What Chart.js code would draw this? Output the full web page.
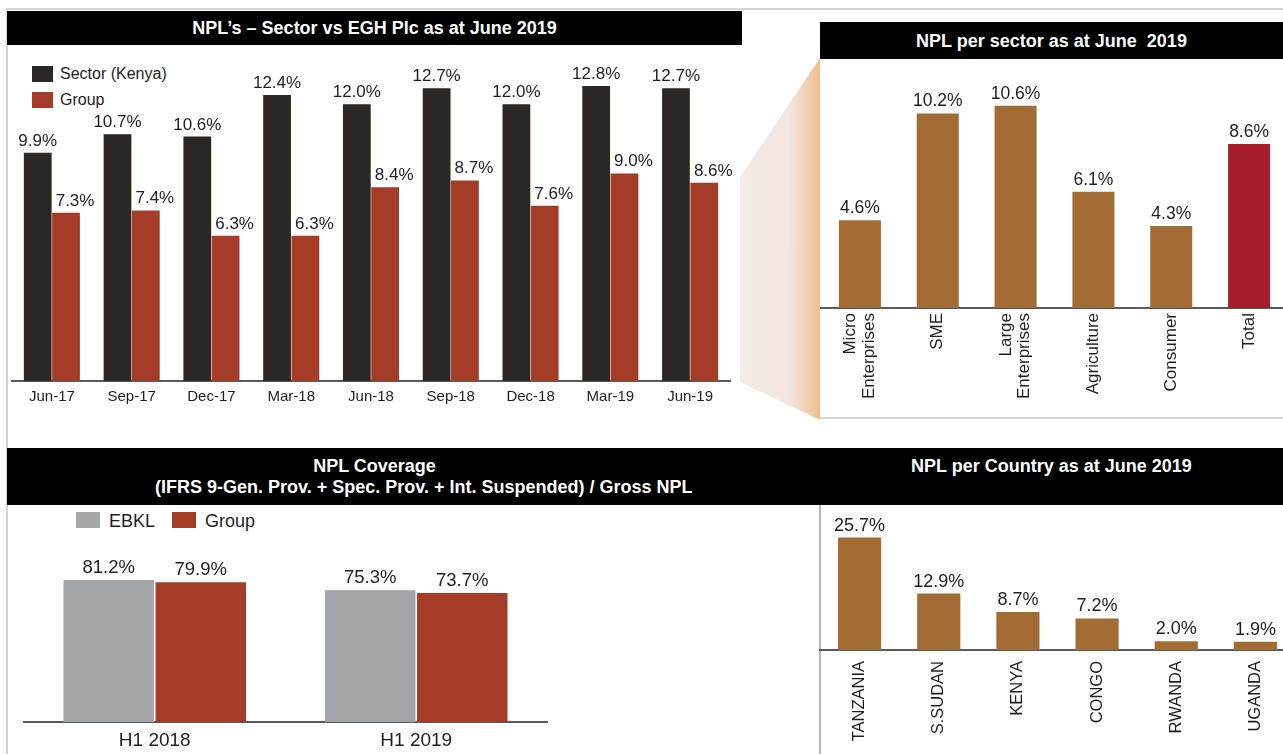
<!DOCTYPE html>
<html>
<head>
<meta charset="utf-8">
<title>NPL overview – June 2019</title>
<script src="https://cdn.jsdelivr.net/npm/chart.js@4.4.1/dist/chart.umd.min.js"></script>
<style>
  html, body { margin: 0; padding: 0; background: #fff; overflow: hidden; }
  body { width: 1283px; height: 754px; position: relative; font-family: "Liberation Sans", Arial, sans-serif; color: #1e1e1e; }
  canvas { position: absolute; }
  .bar { position: absolute; background: #000; color: #fff; font-weight: bold; font-size: 18px; white-space: pre; }
  .bar .t { position: absolute; line-height: 22px; }
  .rule { position: absolute; background: #d4d4d4; }
  .key { position: absolute; font-size: 16px; line-height: 18px; white-space: nowrap; }
  .sw { position: absolute; }
  #wedge {
    position: absolute; left: 740px; top: 58px; width: 80px; height: 362px;
    clip-path: polygon(0 119px, 80px 0, 80px 362px, 0 324px);
    background: linear-gradient(to right, #f4ece8 0%, #f3e6df 62%, #f1d2b6 82%, #efbf8d 100%);
  }
</style>
</head>
<body>
<!-- frame lines -->
<div class="rule" style="left:7px;top:8px;width:1276px;height:2px;"></div>
<div class="rule" style="left:6px;top:8px;width:2px;height:746px;"></div>
<div class="rule" style="left:820px;top:417px;width:463px;height:2px;"></div>
<div class="rule" style="left:819px;top:505px;width:2px;height:249px;background:#b5b5b5;"></div>

<div id="wedge"></div>

<!-- title bars -->
<div class="bar" style="left:7px;top:11px;width:735px;height:34px;">
  <div class="t" style="left:0;width:735px;top:6px;text-align:center;">NPL’s – Sector vs EGH Plc as at June 2019</div>
</div>
<div class="bar" style="left:820px;top:22px;width:463px;height:37px;">
  <div class="t" style="left:0;width:463px;top:8px;text-align:center;">NPL per sector as at June  2019</div>
</div>
<div class="bar" style="left:7px;top:448px;width:1276px;height:57px;">
  <div class="t" style="left:0;width:735px;top:7px;text-align:center;">NPL Coverage</div>
  <div class="t" style="left:148px;top:28px;">(IFRS 9-Gen. Prov. + Spec. Prov. + Int. Suspended) / Gross NPL</div>
  <div class="t" style="left:813px;width:463px;top:7px;text-align:center;">NPL per Country as at June 2019</div>
</div>

<!-- legends -->
<div class="sw" style="left:32px;top:66px;width:21px;height:16px;background:#2b2725;"></div>
<div class="key" style="left:60px;top:65px;">Sector (Kenya)</div>
<div class="sw" style="left:32px;top:92px;width:21px;height:16px;background:#a53c28;"></div>
<div class="key" style="left:60px;top:91px;">Group</div>

<div class="sw" style="left:76px;top:512px;width:24px;height:16px;background:#a3a6a8;"></div>
<div class="key" style="left:109px;top:511px;font-size:18px;line-height:20px;">EBKL</div>
<div class="sw" style="left:172px;top:512px;width:24px;height:16px;background:#a53c28;"></div>
<div class="key" style="left:205px;top:511px;font-size:18px;line-height:20px;">Group</div>

<canvas id="trend" width="735" height="374" style="left:7px;top:46px;"></canvas>
<canvas id="sector" width="470" height="356" style="left:820px;top:60px;"></canvas>
<canvas id="coverage" width="540" height="224" style="left:8px;top:530px;"></canvas>
<canvas id="country" width="480" height="248" style="left:818px;top:506px;"></canvas>

<script>
// quarterly NPL ratio, sector vs group
const quarters = ["Jun-17", "Sep-17", "Dec-17", "Mar-18", "Jun-18", "Sep-18", "Dec-18", "Mar-19", "Jun-19"];
const sectorKenya = [9.9, 10.7, 10.6, 12.4, 12.0, 12.7, 12.0, 12.8, 12.7];
const groupNpl = [7.3, 7.4, 6.3, 6.3, 8.4, 8.7, 7.6, 9.0, 8.6];

// NPL by sector, June 2019
const sectors = [["Micro", "Enterprises"], "SME", ["Large", "Enterprises"], "Agriculture", "Consumer", "Total"];
const sectorNpl = [4.6, 10.2, 10.6, 6.1, 4.3, 8.6];

// coverage ratio
const periods = ["H1 2018", "H1 2019"];
const coverageEbkl = [81.2, 75.3];
const coverageGroup = [79.9, 73.7];

// NPL by country, June 2019
const countries = ["TANZANIA", "S.SUDAN", "KENYA", "CONGO", "RWANDA", "UGANDA"];
const countryNpl = [25.7, 12.9, 8.7, 7.2, 2.0, 1.9];

const FONT = "'Liberation Sans', Arial, sans-serif";
const DARK = "#2b2725", RED = "#a53c28", GREY = "#a3a6a8", BROWN = "#a36c34", CRIMSON = "#a51d2b";

// percentage labels above each bar
const valueLabels = {
  id: "valueLabels",
  afterDatasetsDraw(chart, args, opts) {
    const ctx = chart.ctx;
    ctx.save();
    ctx.font = opts.size + "px " + FONT;
    ctx.fillStyle = "#1e1e1e";
    ctx.textAlign = "center";
    ctx.textBaseline = "alphabetic";
    chart.data.datasets.forEach((ds, i) => {
      const dx = (opts.shift || [])[i] || 0;
      chart.getDatasetMeta(i).data.forEach((bar, j) => {
        ctx.fillText(ds.data[j].toFixed(1) + "%", bar.x + dx, bar.y - opts.gap);
      });
    });
    ctx.restore();
  }
};

// vertical category labels, multi-line ones centred on the tick
const verticalTicks = {
  id: "verticalTicks",
  afterDraw(chart, args, opts) {
    const scale = chart.scales.x;
    const ctx = chart.ctx;
    const lh = opts.size * opts.lineHeight;
    ctx.save();
    ctx.font = opts.size + "px " + FONT;
    ctx.fillStyle = "#1e1e1e";
    ctx.textAlign = "right";
    ctx.textBaseline = "middle";
    chart.data.labels.forEach((lbl, i) => {
      const lines = Array.isArray(lbl) ? lbl : [lbl];
      ctx.save();
      ctx.translate(scale.getPixelForTick(i), scale.top + opts.padding);
      ctx.rotate(-Math.PI / 2);
      lines.forEach((line, k) => ctx.fillText(line, 0, (k - (lines.length - 1) / 2) * lh));
      ctx.restore();
    });
    ctx.restore();
  }
};

function xAxis(size, pad, height, rotated, custom) {
  return {
    grid: { display: false, drawTicks: false },
    border: { display: true, color: "#5a5a5a", width: 2 },
    ticks: { display: !custom, color: "#1e1e1e", font: { family: FONT, size: size },
             padding: pad, autoSkip: false, maxRotation: rotated ? 90 : 0, minRotation: rotated ? 90 : 0 },
    afterFit(axis) { axis.height = height; }
  };
}

function base(layout, x, yMax, labelOpts) {
  return {
    responsive: false,
    animation: false,
    devicePixelRatio: 1,
    layout: { padding: layout },
    plugins: { legend: { display: false }, tooltip: { enabled: false }, valueLabels: labelOpts },
    scales: { x: x, y: { display: false, min: 0, max: yMax } }
  };
}

new Chart(document.getElementById("trend"), {
  type: "bar",
  data: {
    labels: quarters,
    datasets: [
      { label: "Sector (Kenya)", data: sectorKenya, backgroundColor: DARK, barPercentage: 0.98, categoryPercentage: 0.71 },
      { label: "Group", data: groupNpl, backgroundColor: RED, barPercentage: 0.98, categoryPercentage: 0.71 }
    ]
  },
  options: base({ left: 5, right: 12, top: 0, bottom: 0 }, xAxis(15, 7, 39), 14.53,
                { size: 17, gap: 7, shift: [0, 9] }),
  plugins: [valueLabels]
});

const sectorOpts = base({ left: 1, right: 2, top: 0, bottom: 0 }, xAxis(17, 5, 108, true, true), 13.0,
                        { size: 17.5, gap: 7 });
sectorOpts.plugins.verticalTicks = { size: 17, lineHeight: 1.08, padding: 5 };

new Chart(document.getElementById("sector"), {
  type: "bar",
  data: {
    labels: sectors,
    datasets: [{
      label: "NPL",
      data: sectorNpl,
      backgroundColor: sectorNpl.map((v, i) => i === sectorNpl.length - 1 ? CRIMSON : BROWN),
      barPercentage: 1, categoryPercentage: 0.54
    }]
  },
  options: sectorOpts,
  plugins: [valueLabels, verticalTicks]
});

new Chart(document.getElementById("coverage"), {
  type: "bar",
  data: {
    labels: periods,
    datasets: [
      { label: "EBKL", data: coverageEbkl, backgroundColor: GREY, barPercentage: 0.983, categoryPercentage: 0.704 },
      { label: "Group", data: coverageGroup, backgroundColor: RED, barPercentage: 0.983, categoryPercentage: 0.704 }
    ]
  },
  options: base({ left: 16, right: 1, top: 0, bottom: 0 }, xAxis(19, 7, 32), 109.7,
                { size: 18.5, gap: 7 }),
  plugins: [valueLabels]
});

new Chart(document.getElementById("country"), {
  type: "bar",
  data: {
    labels: countries,
    datasets: [{ label: "NPL", data: countryNpl, backgroundColor: BROWN, barPercentage: 1, categoryPercentage: 0.545 }]
  },
  options: base({ left: 2, right: 3, top: 0, bottom: 0 }, xAxis(16.5, 11, 104, true), 32.9,
                { size: 18, gap: 7 }),
  plugins: [valueLabels]
});
</script>
</body>
</html>
